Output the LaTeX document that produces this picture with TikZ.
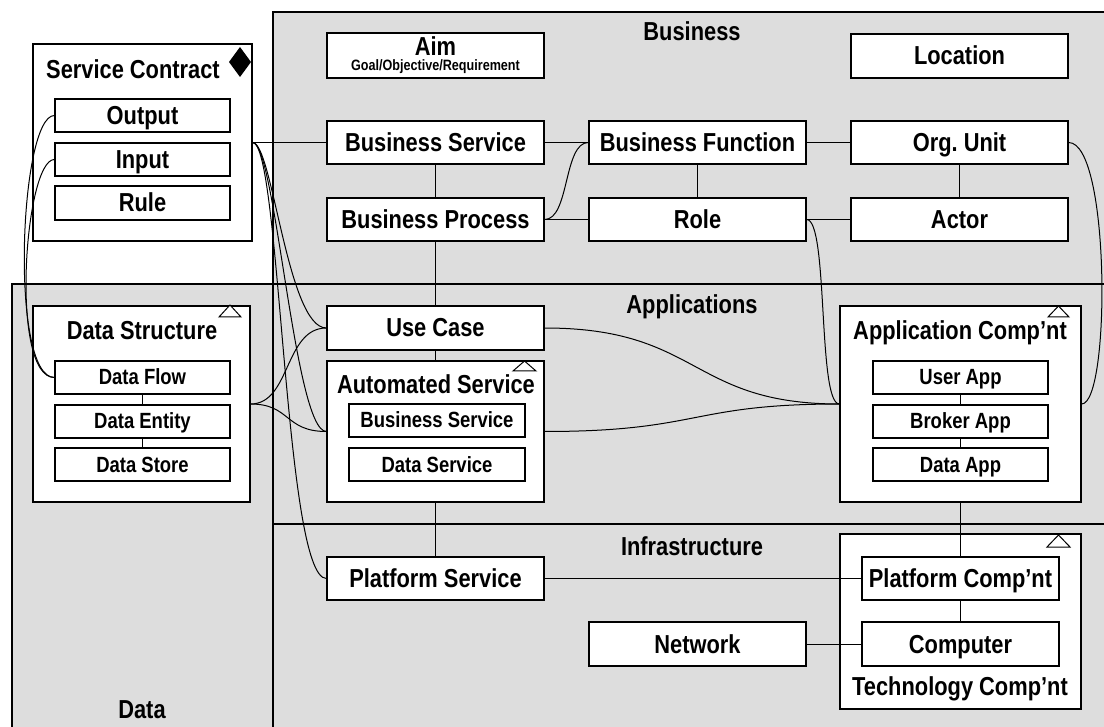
\documentclass[tikz,border=0pt]{standalone}
\usepackage{fontspec}
\setmainfont{Liberation Sans}[FakeStretch=0.84]
\definecolor{bg}{RGB}{221,221,221}
\begin{document}
\frenchspacing
\begin{tikzpicture}[x=1pt,y=-1pt,
  sz/.style 2 args={minimum width=#1pt, minimum height=#2pt},
  box/.style={draw, fill=white, line width=1.2pt, inner sep=0pt,
    font=\bfseries\fontsize{26}{30}\selectfont, text height=18pt, text depth=0pt},
  item/.style={box, font=\bfseries\fontsize{22}{26}\selectfont, text height=15pt},
  title/.style={anchor=base, inner sep=0pt, font=\bfseries\fontsize{26}{30}\selectfont},
  conn/.style={line width=1pt},
  region/.style={fill=bg, draw, line width=1.5pt},
  tri/.style={draw, fill=white, line width=1pt, line join=miter}
]
\useasboundingbox (0,0) rectangle (1104,727);
\fill[white] (0,0) rectangle (1104,727);
\begin{scope}
\clip (0,0) rectangle (1104,727);
\draw[region] (273,12) rectangle (1120,740);
\draw[region] (12,284) rectangle (273,740);
\draw[line width=1.5pt] (273,284) -- (1120,284);
\draw[line width=1.5pt] (273,524) -- (1120,524);
\end{scope}

% section labels
\node[title] (lbus) at (692,41) {Business};
\node[title] (lapp) at (692,314) {Applications};
\node[title] (linf) at (692,555) {Infrastructure};
\node[title] (ldat) at (142,718) {Data};

% Service Contract
\node[box, sz={219}{197}] (sc) at (142.5,142.5) {};
\node[title] (sct) at (133,79) {Service Contract};
\fill (240,47) -- (251,62) -- (240,77) -- (229,62) -- cycle;
\node[box, sz={175}{33}] (out) at (142.5,115.5) {Output};
\node[box, sz={175}{33}] (inp) at (142.5,159.5) {Input};
\node[box, sz={175}{34}] (rule) at (142.5,203) {Rule};

% Data Structure
\node[box, sz={217}{196}] (ds) at (141.5,404) {};
\node[title] (dst) at (142,340) {Data Structure};
\draw[tri] (230,305) -- (241,317) -- (219,317) -- cycle;
\node[item, sz={175}{33}] (dflow) at (142.5,377.5) {Data Flow};
\node[item, sz={175}{33}] (dent) at (142.5,421.5) {Data Entity};
\node[item, sz={175}{33}] (dstore) at (142.5,464.5) {Data Store};

% Business
\node[box, sz={217}{45}] (aim) at (435.5,55.5) {};
\node[title] (aimt) at (435.5,56) {Aim};
\node[title, font=\bfseries\fontsize{15}{18}\selectfont] (aims) at (435.5,71) {Goal/Objective/Requirement};
\node[box, sz={217}{44}] (loc) at (959.5,56) {Location};
\node[box, sz={217}{43}] (bs) at (435.5,142.5) {Business Service};
\node[box, sz={217}{43}] (bf) at (697.5,142.5) {Business Function};
\node[box, sz={217}{43}] (ou) at (959.5,142.5) {Org. Unit};
\node[box, sz={217}{43}] (bp) at (435.5,219.5) {Business Process};
\node[box, sz={217}{43}] (role) at (697.5,219.5) {Role};
\node[box, sz={217}{43}] (actor) at (959.5,219.5) {Actor};

% Applications
\node[box, sz={217}{44}] (uc) at (435.5,328) {Use Case};
\node[box, sz={217}{141}] (as) at (435.5,431.5) {};
\node[title] (ast) at (436,394) {Automated Service};
\draw[tri] (524.5,361) -- (536,371) -- (513,371) -- cycle;
\node[item, sz={176}{33}] (asbs) at (437,420.5) {Business Service};
\node[item, sz={176}{33}] (asds) at (437,464.5) {Data Service};

\node[box, sz={241}{196}] (ac) at (960.5,404) {};
\node[title] (act) at (960,340) {Application Comp’nt};
\draw[tri] (1058.5,306) -- (1069,317) -- (1048,317) -- cycle;
\node[item, sz={175}{33}] (uapp) at (960.5,377.5) {User App};
\node[item, sz={175}{33}] (bapp) at (960.5,421.5) {Broker App};
\node[item, sz={175}{33}] (dapp) at (960.5,464.5) {Data App};

% Infrastructure
\node[box, sz={241}{175}] (tc) at (960.5,621.5) {};
\node[title] (tct) at (960,695) {Technology Comp’nt};
\draw[tri] (1058.5,535) -- (1070,547) -- (1047,547) -- cycle;
\node[box, sz={197}{43}] (pc) at (960.5,578.5) {Platform Comp’nt};
\node[box, sz={197}{44}] (comp) at (960.5,644) {Computer};
\node[box, sz={217}{43}] (ps) at (435.5,578.5) {Platform Service};
\node[box, sz={217}{44}] (net) at (697.5,644) {Network};

% straight connectors
\draw[conn] (sc.east) -- (bs.west);
\draw[conn] (bs.east) -- (bf.west);
\draw[conn] (bf.east) -- (ou.west);
\draw[conn] (bp.east) -- (role.west);
\draw[conn] (role.east) -- (actor.west);
\draw[conn] (bs.south) -- (bp.north);
\draw[conn] (bf.south) -- (role.north);
\draw[conn] (ou.south) -- (actor.north);
\draw[conn] (bp.south) -- (uc.north);
\draw[conn] (uc.south) -- (as.north);
\draw[conn] (as.south) -- (ps.north);
\draw[conn] (ac.south) -- (pc.north);
\draw[conn] (ps.east) -- (pc.west);
\draw[conn] (net.east) -- (comp.west);
\draw[conn] (pc.south) -- (comp.north);
\draw[conn] (dflow.south) -- (dent.north);
\draw[conn] (dent.south) -- (dstore.north);
\draw[conn] (uapp.south) -- (bapp.north);
\draw[conn] (bapp.south) -- (dapp.north);

% curved connectors
\draw[conn] (sc.east) .. controls +(20,0) and +(-39,0) .. (uc.west);
\draw[conn] (sc.east) .. controls +(23,0) and +(-32,0) .. (as.west);
\draw[conn] (sc.east) .. controls +(28,0) and +(-42,0) .. (ps.west);
\draw[conn] (ds.east) .. controls +(40,0) and +(-42,0) .. (uc.west);
\draw[conn] (ds.east) .. controls +(40,0) and +(-42,0) .. (as.west);
\draw[conn] (out.west) .. controls +(-35,0) and +(-45,0) .. (dflow.west);
\draw[conn] (inp.west) .. controls +(-30,0) and +(-45,0) .. (dflow.west);
\draw[conn] (bp.east) .. controls +(25,0) and +(-25,0) .. (bf.west);
\draw[conn] (role.east) .. controls +(22,0) and +(-22,0) .. (ac.west);
\draw[conn] (ou.east) .. controls +(42,0) and +(29,0) .. (ac.east);
\draw[conn] (uc.east) .. controls +(156,0) and +(-150,0) .. (ac.west);
\draw[conn] (as.east) .. controls +(156,0) and +(-150,0) .. (ac.west);
\end{tikzpicture}
\end{document}
